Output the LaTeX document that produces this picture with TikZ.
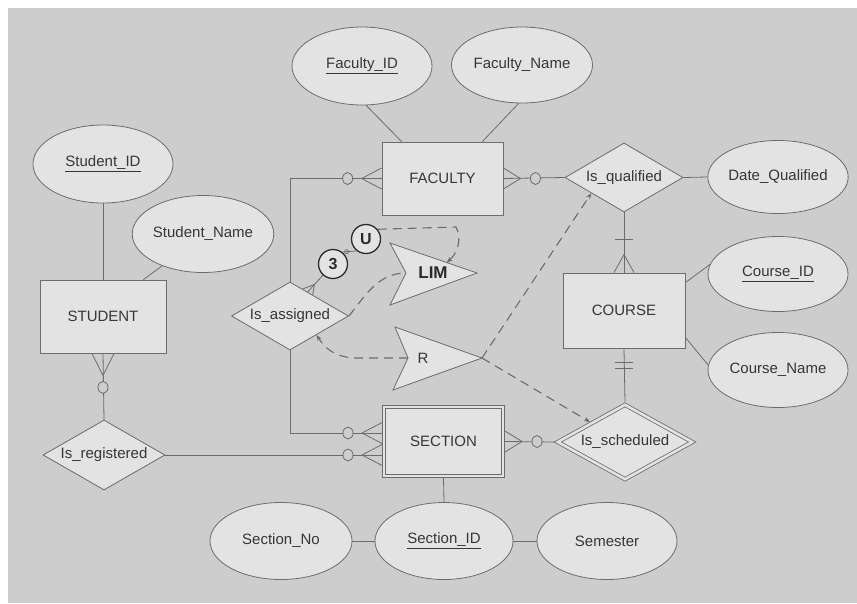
\documentclass[tikz,border=0pt]{standalone}
\usepackage{fontspec}
\setmainfont{Liberation Sans}
\usetikzlibrary{shapes.geometric,calc,arrows.meta}
\definecolor{paper}{HTML}{CDCDCD}
\definecolor{boxfill}{HTML}{E3E3E3}
\definecolor{ink}{HTML}{6C6C6C}
\definecolor{txt}{HTML}{363636}
\definecolor{dark}{HTML}{2A2A2A}

\begin{document}
\begin{tikzpicture}[x=1pt,y=-1pt,
  erline/.style={draw=ink,line width=0.8pt},
  dashline/.style={draw=ink,line width=1.1pt,dash pattern=on 9pt off 6pt},
  tip/.style={-{Stealth[length=6pt,width=4.5pt]}},
  lbl/.style={font=\fontsize{15}{17}\selectfont,text=txt},
  entity/.style={rectangle,draw=ink,fill=boxfill,line width=0.8pt,inner sep=0pt,lbl},
  weak/.style={entity,double=boxfill,double distance=2.6pt,outer sep=2pt},
  attr/.style={ellipse,draw=ink,fill=boxfill,line width=0.8pt,inner sep=0pt,lbl},
  rel/.style={diamond,draw=ink,fill=boxfill,line width=0.8pt,inner sep=0pt,
    label={[lbl]center:#1}},
  weakrel/.style={rel=#1,double=boxfill,double distance=2.6pt,outer sep=2pt},
  zero/.style={ellipse,draw=ink,fill=paper,line width=0.8pt,inner sep=0pt,
    minimum width=10pt,minimum height=12pt},
  ring/.style={circle,draw=dark,fill=boxfill,line width=1.3pt,inner sep=0pt,
    minimum size=29pt,font=\fontsize{16}{18}\bfseries\selectfont,text=dark},
  arrowshape/.style={draw=ink,fill=boxfill,line width=0.8pt}
]
\useasboundingbox (0,0) rectangle (857,603);
\fill[white] (0,0) rectangle (857,603);
\fill[paper] (8,8) rectangle (857,603);

% entities
\node[entity,minimum width=121pt,minimum height=73pt] (fac) at (442.5,178.5) {FACULTY};
\node[entity,minimum width=126pt,minimum height=73pt] (stu) at (103,316.5) {STUDENT};
\node[entity,minimum width=122pt,minimum height=75pt] (crs) at (624,310.5) {COURSE};
\node[weak,minimum width=119pt,minimum height=69pt] (sec) at (443.5,441.5) {SECTION};

% relationships
\node[rel={Is\_assigned},minimum width=117pt,minimum height=68pt] (ia) at (290,316) {};
\node[rel={Is\_qualified},minimum width=118pt,minimum height=69pt] (iq) at (624,177.5) {};
\node[rel={Is\_registered},minimum width=122pt,minimum height=70pt] (ir) at (104,455) {};
\node[weakrel={Is\_scheduled},minimum width=136pt,minimum height=76pt] (is) at (625,442) {};

% attributes
\node[attr,minimum width=140pt,minimum height=78pt] (fid) at (362,66) {\underline{Faculty\_ID}};
\node[attr,minimum width=141pt,minimum height=76pt] (fnm) at (522,65) {Faculty\_Name};
\node[attr,minimum width=140pt,minimum height=78pt] (sid) at (103,164) {\underline{Student\_ID}};
\node[attr,minimum width=140pt,minimum height=77pt] (snm) at (203,234) {Student\_Name};
\node[attr,minimum width=140pt,minimum height=73pt] (dq) at (778,177) {Date\_Qualified};
\node[attr,minimum width=140pt,minimum height=75pt] (cid) at (778,274) {\underline{Course\_ID}};
\node[attr,minimum width=140pt,minimum height=75pt] (cnm) at (778,370) {Course\_Name};
\node[attr,minimum width=142pt,minimum height=77pt] (sno) at (281,541) {Section\_No};
\node[attr,minimum width=138pt,minimum height=77pt] (sidd) at (444,541) {\underline{Section\_ID}};
\node[attr,minimum width=140pt,minimum height=77pt] (sem) at (607,541) {Semester};

% attribute links
\draw[erline] (fid.-84) -- ($(fac.north west)+(20,0)$);
\draw[erline] (fnm.-95) -- ($(fac.north east)+(-21,0)$);
\draw[erline] (sid.south) -- (sid.south |- stu.north);
\draw[erline] (snm.218) -- ($(stu.north east)+(-23,0)$);
\draw[erline] (iq.east) -- (dq.west);
\draw[erline] ($(crs.north east)+(0,10)$) -- (cid.172);
\draw[erline] ($(crs.south east)+(0,-11)$) -- (cnm.176);
\draw[erline] (sec.south) -- (sidd.north);
\draw[erline] (sno.east) -- (sidd.west);
\draw[erline] (sidd.east) -- (sem.west);

% relationship links
\coordinate (s1) at ($(sec.west)+(0,-8.5)$);
\coordinate (s2) at (sec.west |- ir.east);
\draw[erline] (fac.west) -| (ia.north);
\draw[erline] (ia.south) |- (s1);
\draw[erline] (ir.east) -- (s2);
\draw[erline] (stu.south) -- (ir.north);
\draw[erline] (fac.east) -- (iq.west);
\draw[erline] (iq.south) -- (crs.north);
\draw[erline] (crs.south) -- (is.north);
\draw[erline] (sec.east) -- (is.west);

% crow's feet
\foreach \p in {fac.west,s1,s2}{
  \draw[erline] ($(\p)+(0,-10.5)$) -- ($(\p)+(-20,0)$) -- ($(\p)+(0,10.5)$);
}
\foreach \p in {fac.east,sec.east}{
  \draw[erline] ($(\p)+(0,-10.5)$) -- ($(\p)+(17,0)$) -- ($(\p)+(0,10.5)$);
}
\draw[erline] ($(stu.south)+(-11,0)$) -- ($(stu.south)+(0,22)$) -- ($(stu.south)+(11,0)$);
\draw[erline] ($(crs.north)+(-10,0)$) -- ($(crs.north)+(0,-18)$) -- ($(crs.north)+(10,0)$);

% bars
\draw[erline] ($(crs.north)+(-9,-33)$) -- ($(crs.north)+(9,-33)$);
\draw[erline] ($(crs.south)+(-9,14)$) -- ($(crs.south)+(9,14)$);
\draw[erline] ($(crs.south)+(-9,20)$) -- ($(crs.south)+(9,20)$);

% optional circles
\node[zero] (z1) at ($(fac.west)+(-34,0)$) {};
\node[zero] (z2) at ($(s1)+(-34,0)$) {};
\node[zero] (z3) at ($(s2)+(-34,0)$) {};
\node[zero] (z4) at ($(fac.east)+(32,0)$) {};
\node[zero] (z5) at ($(sec.east)+(32,0)$) {};
\node[zero] (z6) at ($(stu.south)+(0,34)$) {};

% business rule arrows
\coordinate (L1) at (390,243);
\coordinate (Lapex) at (477,273);
\coordinate (L2) at (390,305);
\coordinate (Lnotch) at (406,273);
\coordinate (R1) at (395,327);
\coordinate (Rapex) at (482,358);
\coordinate (R2) at (393,390);
\coordinate (Rnotch) at (408,358);
\path[arrowshape] (L1) -- (Lapex) -- (L2) -- (Lnotch) -- cycle;
\path[arrowshape] (R1) -- (Rapex) -- (R2) -- (Rnotch) -- cycle;
\node[font=\fontsize{17}{19}\bfseries\selectfont,text=dark] (lim) at (433,273) {LIM};
\node[lbl] (rr) at (423,358) {R};

% constraint rings
\node[ring] (c3) at (333,264) {3};
\node[ring] (cu) at (366,239) {U};
\draw[erline] (c3.52) -- (cu.232);
\draw[ink,line width=0.7pt] ($(c3.52)!0.3!(cu.232)$) circle (2pt);

% link from Is_assigned to the ring
\coordinate (d3) at ($(ia.north)!0.3!(ia.east)$);
\draw[erline] (d3) -- (c3.228);
\draw[erline] ($(d3)+(-5,-3)$) -- ($(d3)!0.45!(c3.228)$) -- ($(d3)+(5,3)$);

% dashed constraint lines
\draw[dashline,tip] (cu.40) -- (456,227) .. controls (463,240) and (456,255) .. ($(L1)!0.65!(Lapex)$);
\draw[dashline] (ia.east) .. controls (365,296) and (378,273) .. (Lnotch);
\draw[dashline,tip] (Rnotch) -- (352,358) .. controls (336,356) and (326,350) .. ($(ia.east)!0.55!(ia.south)$);
\draw[dashline,tip] (Rapex) -- ($(iq.west)!0.45!(iq.south)$);
\draw[dashline,tip] (Rapex) -- ($(is.west)!0.5!(is.north)$);
\end{tikzpicture}
\end{document}
